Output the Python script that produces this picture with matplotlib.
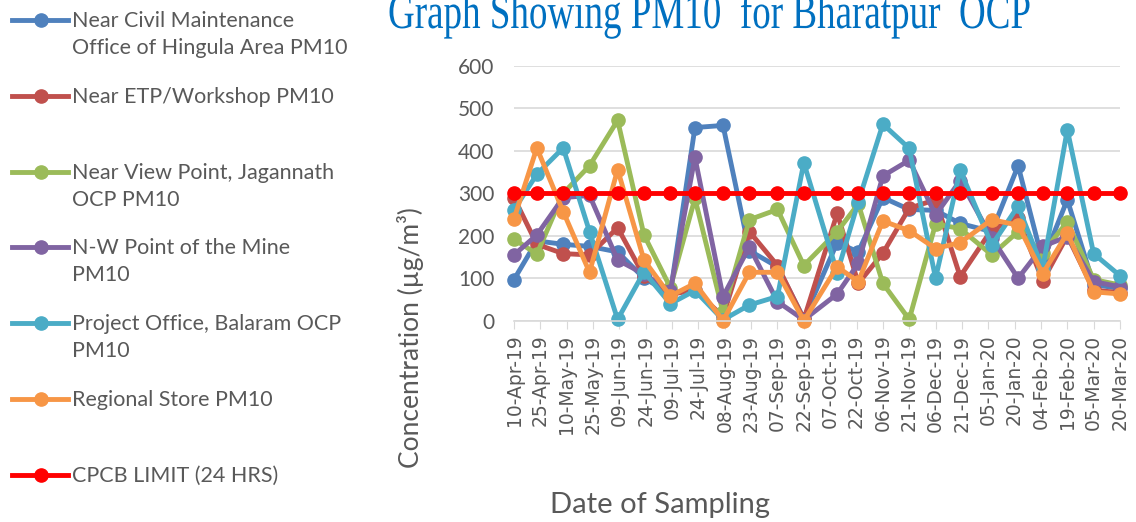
import matplotlib
matplotlib.use("Agg")
import matplotlib.pyplot as plt
from matplotlib.lines import Line2D
from matplotlib.textpath import TextPath
from matplotlib.patches import PathPatch
from matplotlib.font_manager import FontProperties
from matplotlib.transforms import Affine2D, IdentityTransform
import pandas as pd

# sampling dates
sample_dates = ["2019-04-10", "2019-04-23", "2019-05-08", "2019-05-23", "2019-06-08",
                "2019-06-23", "2019-07-08", "2019-07-22", "2019-08-07", "2019-08-22",
                "2019-09-07", "2019-09-22", "2019-10-11", "2019-10-23", "2019-11-06",
                "2019-11-21", "2019-12-06", "2019-12-20", "2020-01-07", "2020-01-22",
                "2020-02-05", "2020-02-19", "2020-03-05", "2020-03-20"]

tick_labels = ["10-Apr-19", "25-Apr-19", "10-May-19", "25-May-19", "09-Jun-19", "24-Jun-19",
               "09-Jul-19", "24-Jul-19", "08-Aug-19", "23-Aug-19", "07-Sep-19", "22-Sep-19",
               "07-Oct-19", "22-Oct-19", "06-Nov-19", "21-Nov-19", "06-Dec-19", "21-Dec-19",
               "05-Jan-20", "20-Jan-20", "04-Feb-20", "19-Feb-20", "05-Mar-20", "20-Mar-20"]

civil = [97, 188, 180, 175, 162, 100, 65, 455, 460, 165, 127, 5,
         184, 162, 290, 262, 260, 229, 210, 365, 140, 285, 85, 76]
etp = [290, 180, 158, 155, 219, 105, 62, 72, 10, 210, 130, 3,
       253, 88, 159, 265, 285, 104, 215, 241, 94, 200, 72, 66]
viewpoint = [192, 157, 300, 365, 472, 202, 78, 288, 20, 238, 262, 130,
             210, 275, 88, 3, 228, 217, 155, 210, 160, 233, 97, 84]
nw_point = [155, 202, 290, 295, 143, 110, 70, 385, 57, 174, 45, 2,
            63, 135, 341, 378, 249, 330, 195, 100, 175, 198, 92, 80]
balaram = [261, 345, 407, 210, 3, 115, 40, 71, 2, 37, 57, 372,
           113, 280, 463, 406, 100, 355, 178, 270, 123, 450, 158, 106]
store = [240, 407, 257, 114, 356, 143, 58, 88, 0, 114, 114, 0,
         127, 92, 235, 212, 170, 184, 238, 225, 111, 206, 68, 63]
cpcb = [300] * 24

names = [["Near Civil Maintenance", "Office of Hingula Area PM10"],
         ["Near ETP/Workshop PM10"],
         ["Near View Point, Jagannath", "OCP PM10"],
         ["N-W Point of the Mine", "PM10"],
         ["Project Office, Balaram OCP", "PM10"],
         ["Regional Store PM10"],
         ["CPCB LIMIT (24 HRS)"]]
series = [civil, etp, viewpoint, nw_point, balaram, store, cpcb]
colors = ["#4F81BD", "#C0504D", "#9BBB59", "#8064A2", "#4BACC6", "#F79646", "#FF0000"]

W, H = 1136, 522
fig = plt.figure(figsize=(W / 100, H / 100), dpi=100)
ax = fig.add_axes([514 / W, 1 - 320.7 / H, 606 / W, (320.7 - 66) / H])

x = pd.to_datetime(sample_dates)
ticks = pd.to_datetime(tick_labels, format="%d-%b-%y")

for vals, c in zip(series, colors):
    ax.plot(x, vals, color=c, lw=3.5, marker="o", ms=9.5, clip_on=False)

ax.set_xlim(ticks[0], ticks[-1])
ax.set_ylim(0, 600)
ax.set_yticks(range(0, 601, 100))
ax.set_xticks(ticks)
ax.set_xticklabels(tick_labels, rotation=90, fontsize=13.5, color="#595959",
                   family="DejaVu Sans")
ax.tick_params(axis="y", length=0, labelsize=15, labelcolor="#595959", pad=14)
ax.tick_params(axis="x", length=6, color="#D9D9D9", pad=4)
for lab in ax.get_yticklabels():
    lab.set_family("Lato")
ax.grid(axis="y", color="#D9D9D9", lw=1.2)
ax.set_axisbelow(True)
for s in ["top", "right", "left"]:
    ax.spines[s].set_visible(False)
ax.spines["bottom"].set_color("#D9D9D9")
ax.spines["bottom"].set_linewidth(1.2)

# title: Times-like, tall and narrow, cut off at the top edge
title = "Graph Showing PM10  for Bharatpur  OCP"
tp = TextPath((0, 0), title, size=37, prop=FontProperties(family="Liberation Serif"))
tw = tp.get_extents().width
tr = Affine2D().scale(640 / tw, 1.35).translate(388, H - 28) + IdentityTransform()
fig.add_artist(PathPatch(tp, transform=tr, color="#0070C0", lw=0))

fig.text(410 / W, 1 - 338 / H, "Concentration (µg/m³)", rotation=90,
         family="Lato", fontsize=19, color="#595959", ha="center", va="center")
fig.text(660 / W, 1 - 505 / H, "Date of Sampling", family="Lato", fontsize=21,
         color="#595959", ha="center", va="center")

# legend drawn by hand on the left
for i, (lines, c) in enumerate(zip(names, colors)):
    y_px = 20 + i * 75.8
    yy = 1 - y_px / H
    fig.add_artist(Line2D([12 / W, 68 / W], [yy, yy], color=c, lw=3.5,
                          transform=fig.transFigure))
    fig.add_artist(Line2D([41 / W], [yy], color=c, marker="o", ms=9.5,
                          transform=fig.transFigure))
    for j, line in enumerate(lines):
        fig.text(72 / W, 1 - (y_px + 7 + 27 * j) / H, line, family="Lato",
                 fontsize=15.5, color="#595959", va="baseline")

fig.savefig("out.png", dpi=100)
